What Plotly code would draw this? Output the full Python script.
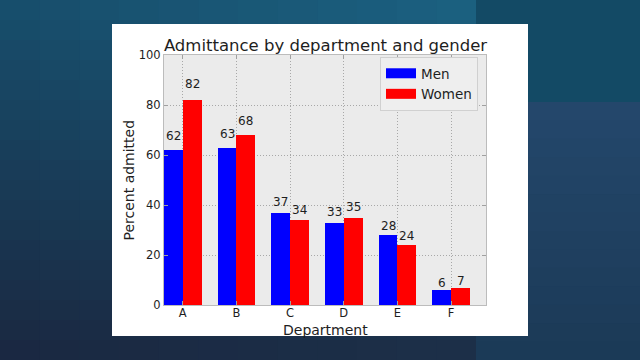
import plotly.graph_objects as go

departments = ["A", "B", "C", "D", "E", "F"]
men = [62, 63, 37, 33, 28, 6]
women = [82, 68, 34, 35, 24, 7]
y_ticks = [0, 20, 40, 60, 80, 100]

W, H = 640, 360
L, R, T, B = 164, 486, 55, 305
FONT = "DejaVu Sans"
TXT = "#1e1e1e"


def px(p):
    return (p - L) / (R - L)


def py(p):
    return (B - p) / (B - T)


def hexrgb(h):
    h = h.lstrip("#")
    return [int(h[i:i + 2], 16) for i in (0, 2, 4)]


def mix(c1, c2, t):
    a, b = hexrgb(c1), hexrgb(c2)
    return "rgb(%d,%d,%d)" % tuple(round(a[i] + (b[i] - a[i]) * t) for i in range(3))


def bilin(tl, tr, bl, br, u, v):
    top = [hexrgb(tl)[i] + (hexrgb(tr)[i] - hexrgb(tl)[i]) * u for i in range(3)]
    bot = [hexrgb(bl)[i] + (hexrgb(br)[i] - hexrgb(bl)[i]) * u for i in range(3)]
    return "rgb(%d,%d,%d)" % tuple(round(top[i] + (bot[i] - top[i]) * v) for i in range(3))


shapes = []


def rect(x0, y0, x1, y1, color):
    shapes.append(dict(type="rect", xref="paper", yref="paper",
                       x0=px(x0), x1=px(x1), y0=py(y1), y1=py(y0),
                       fillcolor=color, line=dict(width=0), layer="below"))


# background: left area with 2D gradient
nx, ny = 12, 18
for i in range(nx):
    for j in range(ny):
        x0 = 476 * i / nx
        x1 = 476 * (i + 1) / nx + 0.6
        y0 = 360 * j / ny
        y1 = 360 * (j + 1) / ny + 0.6
        c = bilin("#174e6c", "#1b6282", "#1a2740", "#1c2e47",
                  (i + 0.5) / nx, (j + 0.5) / ny)
        rect(x0, y0, x1, y1, c)
# right column top
rect(476, 0, 640, 102, "#134a65")
# right column lower gradient
for j in range(14):
    y0 = 102 + (360 - 102) * j / 14
    y1 = 102 + (360 - 102) * (j + 1) / 14 + 0.6
    rect(476, y0, 640, y1, mix("#24486c", "#1b3956", (j + 0.5) / 14))
# white panel
rect(112, 24, 528, 336, "#ffffff")
# plot area
rect(L, T, R, B, "#ebebeb")

xs = list(range(len(departments)))

fig = go.Figure()
fig.add_trace(go.Bar(x=xs, y=men, width=0.35, offset=-0.35,
                     marker=dict(color="#0000ff", line=dict(width=0)),
                     showlegend=False, name="Men"))
fig.add_trace(go.Bar(x=xs, y=women, width=0.35, offset=0,
                     marker=dict(color="#ff0000", line=dict(width=0)),
                     showlegend=False, name="Women"))
fig.add_trace(go.Scatter(x=[None], y=[None], mode="lines", name="Men",
                         line=dict(color="#0000ff", width=10)))
fig.add_trace(go.Scatter(x=[None], y=[None], mode="lines", name="Women",
                         line=dict(color="#ff0000", width=10)))

annotations = []
for i, v in enumerate(men):
    annotations.append(dict(x=i - 0.175, y=1.05 * v, text=str(v), showarrow=False,
                            yanchor="bottom", xanchor="center", yshift=-3,
                            font=dict(family=FONT, size=12, color=TXT)))
for i, v in enumerate(women):
    annotations.append(dict(x=i + 0.175, y=1.05 * v, text=str(v), showarrow=False,
                            yanchor="bottom", xanchor="center", yshift=-3,
                            font=dict(family=FONT, size=12, color=TXT)))
annotations.append(dict(xref="paper", yref="paper", x=px(325), y=py(330),
                        text="Department", showarrow=False, xanchor="center",
                        yanchor="middle", font=dict(family=FONT, size=14, color=TXT)))
annotations.append(dict(xref="paper", yref="paper", x=px(128.5), y=py(180),
                        text="Percent admitted", showarrow=False, textangle=-90,
                        xanchor="center", yanchor="middle",
                        font=dict(family=FONT, size=14, color=TXT)))

fig.update_layout(
    width=W, height=H,
    margin=dict(l=L, r=W - R, t=T, b=H - B, pad=0),
    paper_bgcolor="#1a3a55",
    plot_bgcolor="rgba(0,0,0,0)",
    shapes=shapes,
    annotations=annotations,
    bargap=0,
    title=dict(text="Admittance by department and gender", x=px(325.5), xref="paper",
               xanchor="center", y=1 - 45 / H, yref="container", yanchor="middle",
               font=dict(family=FONT, size=16.5, color=TXT)),
    legend=dict(x=px(380), y=py(57), xanchor="left", yanchor="top",
                bgcolor="#eeeeee", bordercolor="#d0d0d0", borderwidth=1,
                font=dict(family=FONT, size=13.5, color=TXT), itemwidth=30),
    font=dict(family=FONT, color=TXT),
    xaxis=dict(range=[-0.35, 5.65], tickvals=xs, ticktext=departments,
               showgrid=True, gridcolor="#a8a8a8", griddash="1px,2px", gridwidth=1,
               showline=True, linecolor="#bcbcbc", mirror="ticks",
               ticks="inside", ticklen=4, tickcolor="#a0a0a0", ticklabelstandoff=-3,
               tickfont=dict(family=FONT, size=11.5, color=TXT), zeroline=False),
    yaxis=dict(range=[0, 100], tickvals=y_ticks,
               showgrid=True, gridcolor="#a8a8a8", griddash="1px,2px", gridwidth=1,
               showline=True, linecolor="#bcbcbc", mirror="ticks",
               ticks="inside", ticklen=4, tickcolor="#a0a0a0",
               tickfont=dict(family=FONT, size=11.5, color=TXT), zeroline=False),
)

fig.write_html("out.html", config={"displayModeBar": False},
               post_script="document.body.style.margin='0';"
                           "document.body.style.background='#1a3a55';")
